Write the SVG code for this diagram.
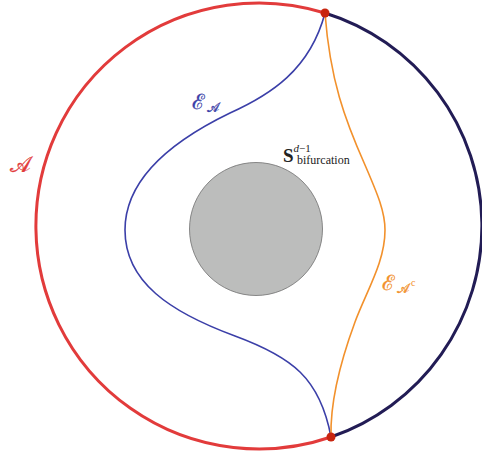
<svg xmlns="http://www.w3.org/2000/svg" width="482" height="457" viewBox="0 0 482 457">
<style>
.lbl{font-family:"DejaVu Serif","Liberation Serif",serif;stroke-width:0.3}
.arc{fill:none;stroke-width:3}
.cv{fill:none;stroke-width:1.6}
</style>
<rect width="482" height="457" fill="#fff"/>
<g id="connectors">
<path class="arc" stroke="#e23b3b" d="M325,13 A223,223 0 1 0 331,437"/>
<path class="arc" stroke="#221c55" d="M325,13 A223,223 0 0 1 331,437"/>
<path class="cv" stroke="#3b3fa8" d="M325,13 C310,70 270,95 230,113 C170,142 125,180 125,230 C125,282 170,312 235,336 C292,357 320,378 331,437"/>
<path class="cv" stroke="#f2912c" d="M325,13 C330,80 345,120 365,165 C378,195 385,212 385,230 C385,262 367,290 355,322 C341,360 330,400 331,437"/>
</g>
<g id="sphere">
<circle cx="256" cy="229" r="66.5" fill="#bcbdbc" stroke="#707070" stroke-width="0.8"/>
</g>
<g id="pointTop"><circle cx="325" cy="13" r="4.5" fill="#c8250f"/></g>
<g id="pointBottom"><circle cx="331" cy="437" r="4.5" fill="#c8250f"/></g>
<g id="labelA"><text class="lbl" x="10" y="172" font-size="22" fill="#e23b3b" stroke="#e23b3b">𝒜</text></g>
<g id="labelEA"><text class="lbl" x="192" y="109" font-size="21" fill="#3b3fa8" stroke="#3b3fa8">ℰ</text><text class="lbl" x="207" y="112" font-size="13" fill="#3b3fa8" stroke="#3b3fa8">𝒜</text></g>
<g id="labelEAc"><text class="lbl" x="382" y="290" font-size="21" fill="#f2912c" stroke="#f2912c">ℰ</text><text class="lbl" x="397" y="293" font-size="13" fill="#f2912c" stroke="#f2912c">𝒜</text><text x="411" y="286" font-size="10" fill="#f2912c" font-family="'Liberation Serif',serif">c</text></g>
<g id="labelS"><text x="283" y="162" font-family="'Liberation Serif','DejaVu Serif',serif" fill="#222"><tspan font-size="19" font-weight="bold">S</tspan><tspan font-size="11" dy="-10" font-style="italic">d</tspan><tspan font-size="11">−1</tspan><tspan font-size="12" x="297" dy="12">bifurcation</tspan></text></g>
</svg>
